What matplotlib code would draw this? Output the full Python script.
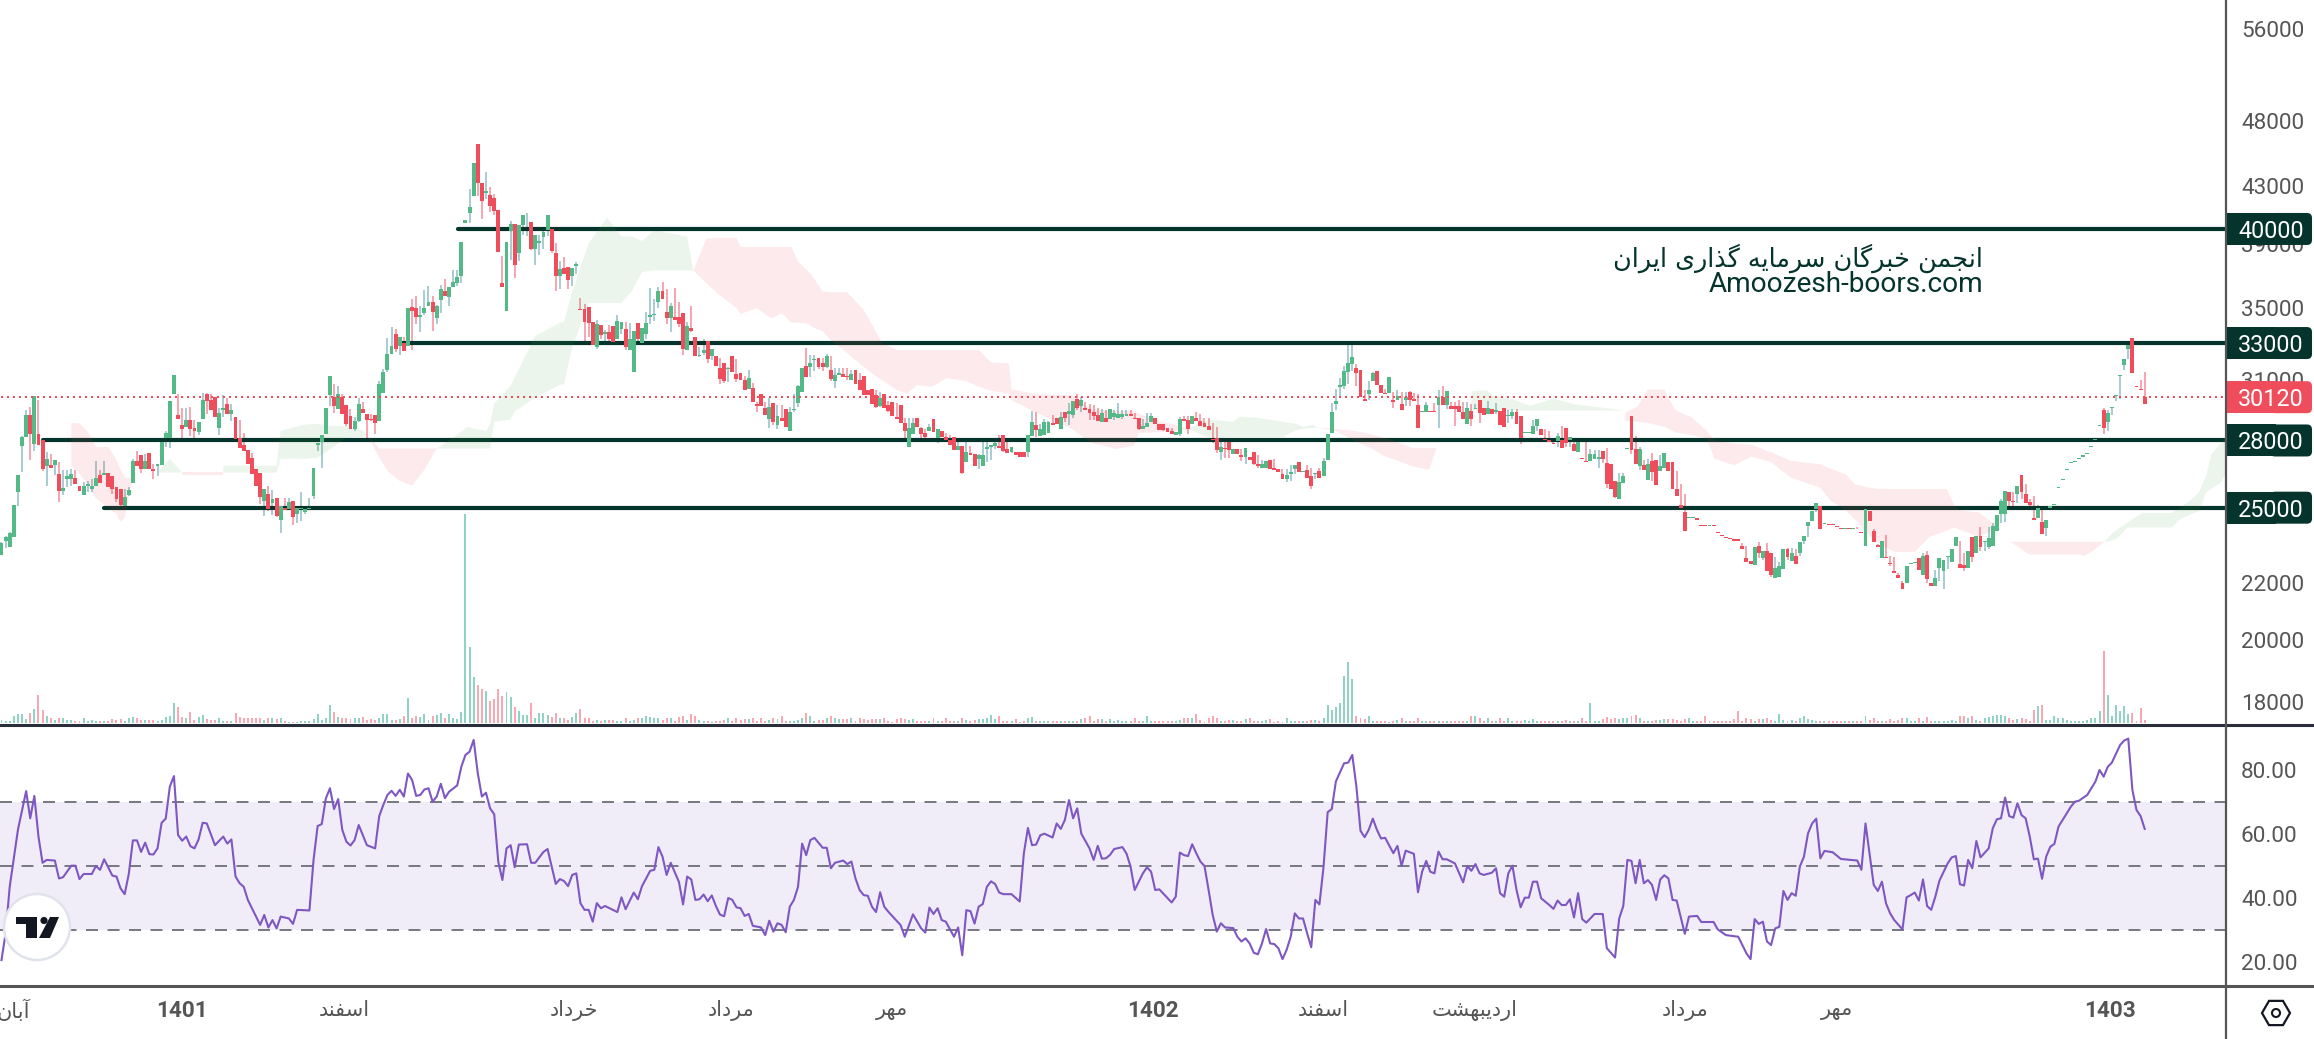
import numpy as np
import matplotlib
matplotlib.use("Agg")
import matplotlib.pyplot as plt
from matplotlib.lines import Line2D
from matplotlib.patches import Circle, FancyBboxPatch, Polygon, Rectangle, RegularPolygon
from matplotlib.ticker import NullFormatter

plt.rcParams['font.family'] = ['Roboto', 'DejaVu Sans']

## candles
opens = [
    23100,23650,23400,23800,25650,27750,28150,29250,27850,28300,
    28000,26800,26850,26850,26450,25700,26250,26250,26300,25950,
    25550,25950,25800,25950,26400,26400,26500,26350,25900,25800,
    25050,25550,26050,27050,27300,26700,27400,26700,26800,26850,
    28100,28100,30300,29250,28750,28650,29000,28600,28400,29050,
    30300,30000,30150,28600,29500,29800,29300,29150,28100,27800,
    27550,27200,26700,26500,25300,25600,25200,25400,24500,25000,
    24950,25300,24750,24950,24800,24950,25500,27800,27950,28300,
    30250,30150,29550,30150,29750,29200,28550,28950,29550,29300,
    29050,29250,28950,30350,31550,32400,33500,32850,33000,32850,
    35050,35000,34500,34700,35150,35350,34400,35500,36050,35680,
    36250,36500,36950,40400,41100,42290,46150,43250,42500,42350,
    42150,41300,36500,34850,39870,40350,38400,40300,40450,40450,
    38700,39050,39450,39950,40000,38400,36950,37450,37500,36950,
    37600,34950,34950,35050,34200,32800,34000,33500,33600,33950,
    33250,33800,33800,32600,31450,34150,33000,33500,34500,34600,
    35350,36000,34750,34450,34500,34500,34700,32600,33850,33350,
    32300,32450,33100,32300,32300,31650,31900,31600,32300,31300,
    31350,31000,30550,30600,29800,30300,29600,29050,29850,28750,
    29100,29550,28450,29500,29850,30400,31750,31700,32050,32200,
    31900,31700,31550,30950,31250,31300,31200,31000,31550,31000,
    31200,30500,30550,30250,29700,30300,29750,29900,29150,29750,
    28850,27700,28300,29100,28600,28350,28450,29050,28100,28450,
    28150,28000,28150,27550,27750,27000,27400,27350,27150,26800,
    27600,27700,27750,27750,28250,27600,27450,27450,27450,27450,
    27450,28200,28750,28200,28250,28350,28850,29100,28550,29400,
    29300,29250,30050,29700,29600,29550,29400,29250,28900,29100,
    29050,29150,29100,29150,29200,29300,29100,29100,28550,28650,
    28900,29100,28800,28800,28600,28450,28250,28300,29050,29000,
    28800,29100,28950,28850,28700,28050,28100,27450,27650,27950,
    27350,27600,27300,27250,27250,27450,26900,26750,26750,27100,
    26750,26700,26450,26250,26450,26700,27000,26550,26650,26350,
    26450,26600,26350,27100,28350,29800,30650,30700,31450,31850,
    31650,31550,30050,30300,30950,31500,30770,30350,30350,30000,
    30000,29800,30000,30400,30050,29750,29400,29400,29450,29450,
    29750,30150,29750,29700,29700,29700,29400,28800,29450,29550,
    30000,29600,29300,29550,29400,29450,29600,29200,29200,29400,
    29200,28350,28350,28300,28700,28550,28050,28000,27900,27980,
    28000,28600,28000,27850,27450,27200,27050,27050,27150,27150,
    27500,26950,26900,26150,25350,26050,27600,29200,27600,26800,
    26850,26200,27050,27100,26600,26750,27000,27000,25800,25100,
    24800,24550,24550,24550,24290,24290,24250,24290,24000,23890,
    23800,23750,23700,23700,23450,22950,22850,22700,23450,22950,
    23250,23150,22200,22250,22550,23300,22850,23050,23150,23650,
    24250,24450,24950,25050,24330,24330,24330,24250,24170,24130,
    24170,24130,24130,24000,23450,24850,24050,23480,22950,23000,
    22780,22450,22300,22000,22000,22750,22780,22950,22300,23100,
    22000,21900,22600,22450,23000,22800,23450,22750,22700,22600,
    23800,23150,23850,23600,23400,23450,24050,24750,24750,25650,
    25300,25600,26400,25600,25250,24550,24550,24400,24150,25000,
    25100,25850,26200,26650,26950,27000,27150,27250,27350,27700,
    28000,28700,29500,28900,29600,30200,31200,31800,32650,33300,
    30700,30550,30120]

closes = [
    23550,23800,23950,25100,26400,28150,29250,28300,30200,27800,
    26700,27150,26750,27100,25700,25850,26350,26450,26000,25700,
    25950,26000,25950,26300,26050,26500,25900,25800,25350,25100,
    25450,25750,27050,26800,26700,27050,26700,26600,26900,27950,
    28350,29950,31250,29050,28550,29000,28550,28450,28900,30000,
    29950,29500,29150,29350,29600,29300,29500,28050,27650,27500,
    26900,26450,25950,25450,25800,24950,25350,24650,25050,24900,
    25250,24600,25000,25000,24950,25000,26750,27900,28250,29600,
    31200,29700,30300,29300,28800,28550,28950,29800,29350,29000,
    29000,28850,30800,31450,32400,32850,32650,33350,32550,35000,
    34850,34500,34600,35000,35350,34750,35150,36150,35700,36250,
    36550,36900,39130,40600,41480,44720,43250,41900,42650,41600,
    41200,38500,36250,39100,40350,37650,40300,40950,40500,38700,
    39600,39200,39800,40950,38550,36950,37400,37100,36700,37450,
    37700,34900,34200,34150,32900,34050,33450,33600,33250,33050,
    34250,34200,32800,33250,33650,33200,33850,34150,34600,34650,
    36000,35550,34450,35150,34300,34050,32650,33950,33700,32300,
    32350,32600,32100,32650,31750,31050,30950,31650,31450,31050,
    31000,30500,31100,29900,29700,29700,29250,29650,28900,29200,
    28950,28650,29400,29550,30700,31650,31150,31900,32100,31700,
    31700,32300,31050,31250,31400,31150,31150,31300,30800,30500,
    30250,30250,29800,29650,30100,29600,29450,29200,29050,28850,
    28450,28600,28850,28650,28300,28150,28650,28400,28550,28150,
    28000,27800,27550,27750,26500,27450,27300,26800,27300,27300,
    27700,27800,27900,27650,27500,27400,27700,27300,27250,27250,
    28250,28900,28500,28550,28900,28900,28750,28800,29150,29100,
    29450,29950,29600,30000,29500,29350,29200,28950,29350,28900,
    29550,29350,29300,29300,29300,29200,29050,28550,28700,28850,
    29200,28800,28500,28500,28400,28300,28400,29050,28950,28550,
    29200,28950,28700,28650,28500,28000,27550,27700,27600,27550,
    27600,27350,27250,27650,27100,26900,26800,26900,27050,26700,
    26650,26550,26250,26400,26550,26850,26550,26600,26300,25950,
    26500,26300,27050,28300,29400,29950,30770,31500,31900,32250,
    31350,30150,29950,30500,31400,30770,30350,30300,31150,29900,
    30200,29500,30150,30000,29950,28600,29450,29750,29400,29400,
    30150,29750,30450,29550,29550,29400,29050,29600,29050,29600,
    29350,29250,29600,29300,29500,28750,28650,29250,29400,28800,
    28100,28400,28400,28700,29050,28250,28000,27950,27850,28200,
    27650,27900,28150,27500,27950,27150,27000,27350,27350,27250,
    27150,26000,25800,25450,26100,26350,27650,27550,26900,27600,
    26650,26900,26550,25970,26800,27400,26600,25800,25500,25000,
    24030,24600,24600,24500,24250,24250,24290,24250,23950,23850,
    23750,23700,23650,23650,23300,22800,22750,23400,23150,23250,
    22450,22300,22600,22650,23300,23000,23150,22750,23600,23850,
    24400,24850,25200,24100,24370,24290,24290,24200,24130,24170,
    24130,24170,24100,23950,24950,24450,23600,23400,23650,22950,
    22750,22400,22220,21780,22650,22780,22800,22500,23050,22150,
    21900,22200,22950,22900,23050,23300,23800,22600,22600,23250,
    23000,23850,23400,23650,23750,24250,24700,25300,25700,25300,
    25250,25950,25650,25200,25100,24500,25000,23900,24500,25050,
    25150,25900,26250,26700,27000,27050,27200,27300,27400,27750,
    28050,28750,28600,29350,29650,30250,31250,32100,32900,31400,
    30650,30500,29800]

highs = [
    23600,23850,24000,25100,26400,28200,29500,29650,30200,30000,
    28000,27450,27350,27100,27000,26650,26650,26700,26650,25950,
    26100,26150,26250,27050,26650,27050,26500,26350,25900,25800,
    25800,25900,27150,27500,27300,27350,27400,26900,26900,28000,
    28450,29950,31250,30300,29600,29600,29650,29000,28900,30350,
    30350,30300,30150,29600,30250,30100,29800,29150,29000,28350,
    27550,27400,26700,26500,25800,25950,25750,25400,25050,25400,
    25400,25300,25000,25650,24950,25400,26750,27900,28250,29600,
    31200,30800,30700,30300,29750,29550,29150,30100,29900,29300,
    29300,29250,30950,31600,33300,33900,33800,33350,33350,35000,
    35550,35700,35150,36100,36350,35700,35200,36400,36750,36250,
    37330,37330,39130,40600,42800,44720,46150,43250,44000,42950,
    42400,41300,38200,39100,40550,40350,40300,40950,41100,40450,
    39600,39600,40000,40950,40000,39050,37900,38150,37500,37450,
    37850,35590,35250,35050,34200,34300,34000,33730,34000,33950,
    34600,34200,34200,34150,33650,34150,33850,34750,36200,35550,
    36250,36600,36150,35300,36200,35350,34700,34200,35150,33350,
    32800,33250,33100,32650,32300,32200,31900,31700,32300,32150,
    31350,31200,31550,30850,29900,30300,29900,30100,29850,29750,
    29750,29550,29650,30300,30750,31650,32750,32350,32350,32200,
    32200,32400,32300,31650,31650,31650,31650,31550,31550,31350,
    31200,30500,30550,30500,30400,30300,29950,29900,29850,29750,
    29100,29100,29100,29100,28650,28550,28800,29050,28550,28450,
    28350,28250,28150,28100,27750,27950,27750,27350,27350,28050,
    28050,27800,28050,28250,28250,28000,27700,27450,27450,27450,
    28250,29450,29400,28800,29050,28950,29250,29100,29400,29400,
    29850,29950,30300,30150,29900,29800,29750,29600,29550,29500,
    29550,29500,29850,29500,29500,29500,29350,29100,29050,29350,
    29350,29100,28800,28800,28600,28600,28400,29150,29200,29200,
    29200,29400,29300,29100,29100,28850,28650,28000,27950,28000,
    27600,27600,27600,27650,27250,27450,27300,27100,27050,27100,
    27150,26700,26700,26700,26850,26850,27000,26600,26850,26750,
    26500,26750,27200,28300,29850,30550,31100,31750,33000,33050,
    31850,31550,30500,30950,31450,31500,30770,30550,31150,30400,
    30500,30400,30400,30450,30350,30300,29450,29900,29450,29850,
    30500,30700,30450,29900,29900,30000,29900,29900,29800,29800,
    30000,29600,29950,29550,29850,29450,29600,29500,29550,29550,
    29200,28400,28400,29000,29050,28550,28550,28450,27950,28350,
    28700,28600,28150,28050,28000,27200,27950,27600,27550,27550,
    27500,27650,26900,26150,26500,26500,27650,29200,28200,27700,
    27100,27150,27400,27100,27300,27400,27000,27000,26600,26000,
    25600,24600,24600,24550,24290,24290,24290,24290,24000,23890,
    23800,23750,23700,23700,23550,23450,22850,23400,23600,23250,
    23550,23150,23000,22800,23300,23350,23350,23300,23600,23850,
    24400,24850,25200,25050,24370,24330,24330,24250,24170,24170,
    24170,24170,24200,24000,24950,24850,24130,23500,23650,23890,
    23050,23000,22400,22100,22650,22780,22800,22950,23150,23250,
    22000,22500,22950,22900,23050,23300,23800,23650,23150,23250,
    23800,23850,24200,23650,24200,24350,24700,25350,25700,25650,
    25650,25950,26400,26000,25350,25480,25100,24900,24500,25050,
    25150,25900,26250,26700,27000,27050,27200,27300,27400,27750,
    28050,28750,29600,29500,29650,30250,31250,32100,32900,33300,
    30700,31000,31450]

lows = [
    23100,23350,23400,23800,25050,26550,28150,27100,27500,27800,
    26600,25950,26750,26400,25250,25550,25900,25950,26000,25700,
    25550,25650,25650,25950,26050,26400,25900,25600,25250,25000,
    25050,25500,26050,26800,26500,26700,26700,26250,26350,26850,
    27700,27650,30300,29050,27950,28650,28200,27950,28250,29050,
    29300,29500,29150,28250,29150,29300,28950,28050,27650,27500,
    26900,26450,25950,25150,24650,24850,24700,24600,23950,24900,
    24950,24300,24350,24450,24750,24950,25350,27500,26750,28300,
    29700,29350,29550,29300,28700,28550,28450,28900,29350,28100,
    28950,28300,28950,30350,31450,32400,32500,32350,32550,32850,
    32600,34050,33600,34600,35150,33700,34050,34700,35700,35130,
    36250,36350,36530,40400,40400,42290,42300,40700,42100,41150,
    40950,38500,36250,34850,37950,36850,37900,39580,39500,38600,
    37650,38300,38650,39500,38400,36050,36150,37100,36150,36350,
    37100,34900,32900,33350,32900,32650,33250,32950,33050,33050,
    33250,33500,32600,32600,31450,32950,33000,33250,34050,34250,
    35000,35550,34100,33600,34300,33900,32350,32600,33600,32300,
    32250,32350,31900,32050,31750,30800,30850,30900,31450,30900,
    31000,30500,30550,29900,29400,29700,29250,28600,28750,28550,
    28950,28650,28450,29400,29650,30400,31150,31150,31500,31600,
    31500,31650,30950,30600,31250,31150,31000,31000,30800,30500,
    30250,30250,29800,29600,29650,29600,29400,29200,29050,28850,
    28100,27700,28300,28650,27950,27950,28450,28400,27900,28150,
    28000,27800,27550,27550,26450,27000,27300,26800,26700,26800,
    27000,27100,27600,27650,27450,27400,27400,27300,27250,27250,
    27250,28200,28150,28200,28250,28350,28750,28800,28550,28900,
    28750,29100,29500,29400,29500,29000,29000,28950,28900,28900,
    29050,29000,29100,29050,29200,29200,29050,28500,28550,28650,
    28900,28800,28500,28450,28400,28300,28250,28200,28950,28300,
    28800,28950,28700,28650,28500,27900,27400,27100,27200,27200,
    27350,27350,27050,26900,27100,26850,26750,26750,26750,26700,
    26650,26550,26250,26100,26150,26450,26550,26550,26300,25800,
    26250,26300,26350,27100,28350,29500,30150,30550,30800,31500,
    30700,30150,29950,30000,30950,30770,30350,30300,30350,29600,
    30000,29500,29700,29700,29950,28600,29400,29400,29400,29400,
    28600,29750,29550,29550,28700,29400,29050,28800,28700,29550,
    28850,29250,29300,29300,29300,28750,28650,28850,29050,28800,
    27850,28350,28350,28300,28450,28250,27950,27950,27850,27700,
    27650,27700,27700,27500,27450,27150,27000,27050,27150,26750,
    26950,25850,25800,25400,25350,26050,27600,27350,26900,26650,
    26650,26200,26150,25970,26600,26750,26600,25800,25500,24900,
    24030,24550,24550,24500,24250,24250,24250,24250,23950,23850,
    23750,23700,23650,23650,23300,22800,22750,22700,22950,22900,
    22450,22250,22200,22250,22550,22900,22850,22750,23050,23500,
    23800,24450,24800,24100,24330,24290,24290,24200,24130,24130,
    24130,24130,24100,23950,23450,24450,23600,23400,22950,22950,
    22650,22400,22220,21780,22000,22750,22780,22500,22300,22000,
    21900,21900,22100,21800,22550,22800,23450,22600,22450,22600,
    22800,23150,23250,23250,23300,23450,24050,24350,24400,24950,
    24900,25200,25350,25200,24950,24500,24550,23900,23850,25000,
    25100,25850,26200,26650,26950,27000,27150,27250,27350,27700,
    28000,28700,28300,28450,29250,29950,30050,31550,32100,31400,
    30650,30500,29800]

## volume, in the units of the hidden volume scale
volumes = [
    8,6,5,18,22,22,10,26,34,70,32,18,12,8,12,14,8,8,5,6,
    12,6,8,6,5,5,5,10,8,10,5,12,16,14,8,8,8,8,6,8,
    16,18,50,40,16,12,28,8,16,20,10,8,8,12,5,6,6,26,16,14,
    12,12,12,12,8,12,12,10,12,5,4,4,4,6,6,6,10,22,8,14,
    45,28,16,12,14,10,14,12,16,8,10,8,14,24,22,8,8,10,18,62,
    14,18,16,24,8,18,20,26,12,24,14,10,28,513,187,114,95,85,80,54,
    60,85,68,78,65,40,30,20,20,50,14,26,26,20,16,26,14,12,8,16,
    26,36,12,12,6,8,5,8,8,8,6,5,14,6,8,14,12,18,16,14,
    12,8,14,12,6,16,18,8,22,18,8,6,5,4,6,6,8,14,6,12,
    8,10,10,12,6,14,6,8,12,10,
    17,7,5,5,8,12,25,17,7,8,8,12,17,14,10,10,10,12,7,12,
    10,8,10,10,10,12,5,3,10,12,10,8,10,7,5,7,7,12,5,7,
    14,5,7,7,14,8,7,8,10,10,14,20,10,19,7,7,7,10,3,5,
    14,15,7,7,7,7,7,7,5,7,7,7,7,10,12,17,7,10,10,7,
    10,7,8,5,5,7,14,7,7,19,7,7,7,5,7,7,7,8,12,12,
    12,24,8,4,14,17,12,7,7,8,8,7,5,10,12,7,7,7,8,10,
    3,5,3,12,5,7,7,7,5,8,8,7,12,44,32,39,49,115,150,108,
    17,12,10,17,7,5,5,7,3,5,8,14,7,7,7,14,5,7,5,7,
    7,7,7,7,7,5,5,7,17,17,12,5,12,5,7,12,7,14,5,7,
    5,8,5,10,7,5,7,7,5,7,
    7,8,7,7,5,12,7,49,5,5,10,15,10,12,10,12,14,19,20,12,
    7,5,7,8,8,10,10,10,8,5,10,12,7,5,5,19,7,7,5,7,
    5,7,10,30,7,14,10,5,10,10,12,8,7,22,8,7,8,
    7,14,17,10,8,7,7,7,5,7,7,7,5,5,5,7,5,17,8,14,
    7,7,7,10,7,8,14,14,7,5,14,7,15,7,5,5,7,7,
    8,7,17,19,14,17,8,7,12,15,17,20,20,17,14,8,10,12,10,7,
    32,42,46,8,8,19,12,12,8,7,7,5,5,8,12,14,30,177,69,17,
    46,30,42,24,25,5,37,8]

## ichimoku cloud edges, nan splits one patch from the next
nan = float("nan")
pink_x = [17,19,21,23,26,28,29,30,32,nan,
    44,54,nan,
    89,92,94,97,100,103,105,106,nan,
    168.5,171.7,174.8,179,180,184,187.5,190,192.4,194,196.3,197.5,200,202.3,206,208.4,210,213.3,214.5,
    218,220.5,223,226.6,230.2,235,238,241,245.4,246,252,260.6,265.4,271.5,275.7,277,282.4,286,289,nan,
    320.6,325,329.8,333.4,337,339.5,343.7,347.7,349.5,nan,
    395.5,398.5,400.9,405.1,407.5,411.7,415.4,417.2,422,426.2,431,435.8,443,445.5,449.1,451.5,455.1,
    457.5,461.1,466,469.6,473.8,475.6,476.8,481.6,486.4,489.4,493.9,501.6,506,507.3,509,512.2]
pink_up = [28840,28820,28420,27700,27700,27100,26650,26300,26300,nan,
    26530,26530,nan,
    28300,27620,27620,27620,27620,27620,27620,27620,nan,
    37300,39350,39400,39400,38800,38800,38800,38800,38800,37850,37300,36950,36000,35950,35950,35300,34900,33500,33000,
    32620,32620,32620,32620,32620,32620,32620,31940,31880,30530,30280,30220,29500,29430,29430,29300,28900,28750,28550,nan,
    28600,28550,28450,28300,28100,27950,27650,27650,27650,nan,
    29350,29650,30500,30500,29500,29100,28450,28000,27850,27800,27450,27050,26900,26700,26450,26000,25850,
    25800,25800,25800,25800,25800,25100,24900,24800,24180,23600,23600,23600,23600,23600,23600,23600]
pink_lo = [26850,26480,25970,25400,25000,24750,24400,24600,26300,nan,
    26400,26400,nan,
    28300,27200,26600,26150,25950,26650,27300,27620,nan,
    37300,36500,35800,35000,34650,35000,34400,34700,34150,34150,34100,33900,33650,33100,32450,32000,31700,31150,31000,
    30500,30300,30750,30650,31100,30950,30650,30450,30300,29980,29350,28560,27900,27600,27750,28350,28400,28450,28550,nan,
    28600,28450,27950,27650,27250,27100,26800,26650,27650,nan,
    28950,28900,28850,28650,28400,28250,28100,27150,26850,27250,27000,26300,25850,25300,24900,24500,23800,
    23500,23200,23200,23800,24050,24180,24100,23800,24180,23600,23100,23100,23100,23050,23200,23600]

green_x = [38,41,44,nan,
    54,67,68,74,77,80,84,88,89,nan,
    106,110,113.5,118,119,120,124,125,130,136,137,139,143,147.5,151,153.5,156,159,167,168.5,nan,
    289,294,300,301.6,305.5,312,315.2,317,319.4,320.6,nan,
    357.8,358.2,361.8,363.5,367.5,372.4,378,383,387,395.2,nan,
    512.2,514.2,515.4,517.8,521.4,528.6,530.4,532.2,535.2,537,538.2,540.7,543]
green_up = [26530,27150,26530,nan,
    26830,26830,28470,28760,28800,28700,28700,28470,28300,nan,
    27620,28130,28650,28450,28800,29800,30700,31150,33400,34150,34200,36000,39050,40750,39500,39500,39200,39900,39500,37300,nan,
    28550,29000,28900,29150,29100,28900,28800,28650,28750,28600,nan,
    29450,30420,30470,30150,30060,29680,30060,29760,29670,29450,nan,
    23600,23960,24100,24380,24780,24780,25000,25180,25650,26400,27350,27900,28500]
green_lo = [26530,26530,26530,nan,
    26530,26530,27150,27150,27200,27580,28130,28170,28300,nan,
    27620,27620,27620,27620,27620,28900,29000,29400,30100,30750,30800,32750,35300,35300,35300,36000,37200,37300,37300,37300,nan,
    28550,28150,28150,28150,28150,28150,28480,28550,28600,28600,nan,
    29450,29450,29450,29450,29450,29450,29450,29450,29450,29450,nan,
    23600,23650,23760,24180,24180,24180,24480,24650,24850,25650,25800,26100,27050]

## rsi, corner points of the line
rsi_index = [0,1,2,4,6,7,8,9,10,11,13,14,15,17,18,19,20,22,23,24,25,27,28,29,30,
    31,32,33,34,35,36,37,38,39,40,41,42,43,44,45,46,47,48,49,50,52,54,55,56,57,58,59,60,
    63,64,65,66,67,68,70,71,72,75,76,77,78,79,80,81,82,83,84,85,86,87,89,91,92,93,94,95,96,97,98,99,
    100,101,102,103,104,105,106,107,108,109,111,112,113,114,115,116,117,118,119,120,121,122,123,124,125,126,
    128,129,130,132,133,134,135,136,137,138,139,140,141,142,143,144,145,146,147,150,151,152,154,155,156,
    158,159,160,161,162,163,165,166,167,168,169,170,171,172,173,174,175,176,177,178,179,180,181,182,183,
    185,186,187,188,189,190,191,192,193,194,195,196,197,198,200,201,202,203,205,206,207,208,209,210,211,212,213,214,215,216,
    219,220,222,224,225,226,227,228,229,230,232,233,234,235,236,237,238,239,240,241,242,243,244,246,248,249,250,
    251,252,253,254,256,257,258,259,260,261,262,263,265,266,267,268,269,270,271,273,274,275,276,278,279,280,281,
    282,285,286,287,288,289,290,291,292,293,294,295,296,297,298,300,301,302,303,304,305,306,307,308,309,310,311,312,313,314,
    315,316,317,318,319,320,321,322,323,324,325,327,328,329,330,331,332,333,334,335,336,337,339,340,341,342,344,345,346,347,
    348,349,350,351,352,354,356,357,358,359,360,361,363,364,365,366,367,368,369,370,371,372,373,374,375,377,378,379,380,381,
    382,383,384,385,386,388,390,391,393,394,395,396,397,398,399,400,401,402,403,404,405,406,407,408,410,411,413,414,417,418,
    420,423,425,426,427,428,429,430,431,432,433,434,435,436,437,438,439,440,441,442,443,444,446,448,452,453,454,456,457,458,
    459,460,461,463,464,465,466,467,468,469,470,471,472,474,475,476,477,478,479,480,481,482,484,485,486,487,488,489,490,491,
    492,493,494,495,496,497,498,499,500,501,504,505,506,508,510,511,512,513,514,516,517,518,519,520,521,522]
rsi_values = [20.6,29,43.5,61.3,73.4,64.9,71.9,59.2,51,51.9,51.7,46.1,46.5,50.1,50.1,45.9,47.5,47.5,50,48.8,52.1,47,46.7,43,41.2,
    47.5,58,58,54.4,57.3,53.7,53.6,55.5,63.5,64.8,74.8,78.1,59.7,57.9,59.2,56.2,55.5,58.3,63.5,63.3,56.5,59.2,57,58.3,46.7,44.6,43.5,39.4,
    31.6,34.7,30.8,33.1,30.5,34.2,33.6,31.9,36.3,36.1,51.9,62.5,63.1,71.1,74.3,67.8,70.9,61.3,57.6,56.4,58.1,62.8,56.5,55.5,65.6,69.1,72.2,73.5,71.9,73.8,71.7,78.9,
    76.9,71.9,72.2,73.9,74.3,70.1,71.7,75.7,71.2,73.2,75.2,81,84.7,85.7,89.4,79,71.7,72.9,68,66.2,51.3,45.6,55.5,56.5,49.6,56.7,
    56.8,51,51,54.4,55.3,49.8,44.4,45.9,45.3,43.7,47.2,47.7,38.4,36.3,36.3,32.6,38.4,36.8,37.5,35.6,40.2,36.5,41.7,39.6,43.7,
    48.5,48.8,55.9,52.9,47.2,51,45,38,46.7,45.8,39.4,39.6,41.1,39,40.8,37.5,34.8,34.3,40,39.4,37.1,36.8,34.4,35,31.3,
    30.8,28.4,32.9,29.5,32.1,31.6,29.3,37.3,39.4,43.5,57,53.4,58.1,58.8,55.7,55.7,49.3,51,51.7,50.6,51.4,46.1,42.5,40.9,40.7,37.3,35.6,41.8,37.3,35.7,
    31.5,27.9,34.9,30.5,29.2,37,35,36.8,33.1,32.6,27.9,30.8,22.1,36.2,35.9,32,37.3,38.1,43.5,45.2,44.4,41.7,41.2,41.2,38.9,53.9,61.9,
    56.5,56.7,59.6,60.1,58.9,63.3,61.6,64.4,70.6,64.9,68,60.1,55.5,51.9,56.3,52.3,52.4,53.5,55.3,55.9,53.9,49.8,42.5,47.7,49.6,48.2,42.5,
    42.7,38.6,40.4,54.2,53.4,53.1,56.8,54,51.4,50,42.5,34.7,29.5,32.1,30.8,30.6,27.9,26.4,27.4,25.8,22.9,22.4,25.8,30.3,25.8,25.6,24.3,20.9,23.8,27.9,
    35.2,33.6,33.6,29,24.6,39.4,38,49.8,66.8,67.8,76.4,82.1,82.3,84.7,74.8,61,59,61.3,64.8,61.3,58.6,58.8,54,56.3,50,54.8,53.8,41.8,48.2,51.6,
    48.2,47.7,54.5,52.1,52.1,50.8,44.9,50,48.5,50.6,47.7,47.2,47.9,49.3,41.5,40.4,47.7,50.1,42.5,37.1,40.1,40.1,45.1,45.1,39.9,37.8,36.6,39.2,37.8,37.8,
    39.6,33.9,41.5,33.4,32.3,35,35,24.3,21.4,33.6,37.5,51.9,51.6,44.6,51.9,44.6,45.6,44.1,39.4,45.8,47.1,46.1,39.4,39.2,28.8,34.2,34.4,32.5,32.5,30.2,
    28.4,27.9,22.7,20.9,33.4,31.9,32.6,26.4,25.3,30.5,31,42.2,39.4,41.5,40.7,49.8,52.9,60.2,63.3,64.8,52.4,54.7,54.3,52.2,51.7,48.8,63.3,44.1,42.2,45.1,
    38.3,35.2,33.1,30.2,40.2,40.9,41.7,39.2,45.8,37.5,36.3,40.4,45.4,50.8,52.7,53.1,44.3,43.9,51.9,49.3,57.8,52.7,55.5,61.8,64.6,64.9,71.4,65.6,65.1,69.6,
    65.9,64.9,59.2,52.1,52.3,46,52.9,56,56.9,62.3,68.5,70.1,70.4,72.2,76.4,80,77.9,81,82.3,87.8,89.2,89.8,73.8,67.5,65.6,61.6]

## horizontal levels and where each starts
level_prices = [40000, 33000, 28000, 25000]
level_starts = [111.3, 97, 10, 25]
last_price = 30120

price_ticks = [18000, 20000, 22000, 31000, 35000, 39000, 43000, 48000, 56000]
rsi_ticks = [20, 40, 60, 80]
month_index = [2.8, 44, 83.4, 139.4, 177.7, 216.9, 280.4, 322, 358.9, 410, 447, 513.5]
month_labels = ["آبان", "1401", "اسفند", "خرداد", "مرداد", "مهر", "1402", "اسفند", "اردیبهشت", "مرداد", "مهر", "1403"]

title_fa = "انجمن خبرگان سرمایه گذاری ایران"
title_en = "Amoozesh-boors.com"

# colours
GREEN = "#53b987"
RED = "#ef4d5c"
GREEN_WICK = "#a9cdd2"
RED_WICK = "#f7a7b2"
GREEN_VOL = "#90d2c4"
RED_VOL = "#f9a8b2"
LEVEL = "#04342c"
GREY = "#555555"
PURPLE = "#7e57c2"

W, H = 2314, 1039
CANDLE_PX = 4.106

# iso, final, initial, medial
FORMS = {
    "ا": "\uFE8D\uFE8E", "آ": "\uFE81\uFE82", "د": "\uFEA9\uFEAA", "ذ": "\uFEAB\uFEAC", "ر": "\uFEAD\uFEAE",
    "ب": "\uFE8F\uFE90\uFE91\uFE92", "ت": "\uFE95\uFE96\uFE97\uFE98", "ج": "\uFE9D\uFE9E\uFE9F\uFEA0",
    "خ": "\uFEA5\uFEA6\uFEA7\uFEA8", "س": "\uFEB1\uFEB2\uFEB3\uFEB4", "ش": "\uFEB5\uFEB6\uFEB7\uFEB8",
    "ف": "\uFED1\uFED2\uFED3\uFED4", "م": "\uFEE1\uFEE2\uFEE3\uFEE4", "ن": "\uFEE5\uFEE6\uFEE7\uFEE8",
    "ه": "\uFEE9\uFEEA\uFEEB\uFEEC", "ی": "\uFBFC\uFBFD\uFBFE\uFBFF", "گ": "\uFB92\uFB93\uFB94\uFB95",
}


def shape_fa(text):
    """matplotlib does not join or reverse Persian, so pick the letter forms here"""
    if text.isdigit():
        return text
    out = []
    for k, ch in enumerate(text):
        if ch not in FORMS:
            out.append(ch)
            continue
        prev_ch = text[k - 1] if k > 0 else " "
        next_ch = text[k + 1] if k + 1 < len(text) else " "
        joins_prev = prev_ch in FORMS and len(FORMS[prev_ch]) == 4
        joins_next = len(FORMS[ch]) == 4 and next_ch in FORMS
        form = FORMS[ch]
        if joins_prev and joins_next:
            out.append(form[3])
        elif joins_next:
            out.append(form[2])
        elif joins_prev:
            out.append(form[1])
        else:
            out.append(form[0])
    return "".join(reversed(out))


def draw_candles(ax):
    x = np.arange(len(opens))
    o = np.array(opens, dtype=float)
    c = np.array(closes, dtype=float)
    up = c >= o
    ax.vlines(x, lows, highs, colors=[GREEN_WICK if u else RED_WICK for u in up], linewidth=1.44, zorder=1)
    ax.bar(x, np.abs(c - o), bottom=np.minimum(o, c), width=0.95, linewidth=0,
           color=[GREEN if u else RED for u in up], zorder=4)


fig = plt.figure(figsize=(W / 100, H / 100), dpi=100, facecolor="white")

ax = fig.add_axes([0, (H - 725) / H, 2226 / W, 725 / H])
ax.set_yscale("log")
ax.set_xlim(-0.365, 541.8)
ax.set_ylim(17329, 58851)

draw_candles(ax)
ax.fill_between(pink_x, pink_lo, pink_up, color="#f23645", alpha=0.1, linewidth=0, zorder=3)
ax.fill_between(green_x, green_lo, green_up, color="#43a047", alpha=0.1, linewidth=0, zorder=3)

for price, start in zip(level_prices, level_starts):
    ax.plot([start, 541.8], [price, price], color=LEVEL, linewidth=3.0, solid_capstyle="round", zorder=2)
ax.plot([0, 541.8], [last_price, last_price], color=RED, linewidth=1.44, linestyle=(0, (1, 2)),
        dash_capstyle="butt", zorder=5)

ax.yaxis.tick_right()
ax.set_yticks(price_ticks)
ax.set_yticklabels([str(p) for p in price_ticks])
ax.yaxis.set_minor_formatter(NullFormatter())
ax.minorticks_off()
ax.tick_params(axis="y", length=0, pad=10.8, labelsize=16.2, labelcolor=GREY)
ax.set_xticks([])
for side in ax.spines:
    ax.spines[side].set_visible(False)

# volume sits on its own hidden scale
ax_vol = fig.add_axes(ax.get_position(), facecolor="none")
ax_vol.set_xlim(ax.get_xlim())
ax_vol.set_ylim(-4, 1771)
ax_vol.bar(np.arange(len(volumes)), volumes, width=0.48, linewidth=0,
           color=[GREEN_VOL if closes[i] >= opens[i] else RED_VOL for i in range(len(volumes))])
ax_vol.axis("off")

# rsi panel
ax_rsi = fig.add_axes([0, (H - 986) / H, 2226 / W, 261 / H])
ax_rsi.set_xlim(ax.get_xlim())
ax_rsi.set_ylim(12.5, 94.06)
ax_rsi.axhspan(30, 70, color=PURPLE, alpha=0.1, linewidth=0)
for level in [30, 50, 70]:
    ax_rsi.axhline(level, color="#787b86", linewidth=1.44, linestyle=(0, (6, 4.75)))
ax_rsi.plot(rsi_index, rsi_values, color=PURPLE, linewidth=1.5)
ax_rsi.yaxis.tick_right()
ax_rsi.set_yticks(rsi_ticks)
ax_rsi.set_yticklabels(["%.2f" % v for v in rsi_ticks])
ax_rsi.tick_params(axis="y", length=0, pad=10.8, labelsize=16.2, labelcolor=GREY)
ax_rsi.set_xticks(month_index)
ax_rsi.set_xticklabels([shape_fa(m) for m in month_labels])
ax_rsi.tick_params(axis="x", length=0, pad=10, labelsize=15, labelcolor=GREY)
for lab, name in zip(ax_rsi.get_xticklabels(), month_labels):
    if name.isdigit():
        lab.set_fontweight("bold")
        lab.set_fontsize(16.2)
    else:
        lab.set_family("DejaVu Sans")
for side in ax_rsi.spines:
    ax_rsi.spines[side].set_visible(False)

# frame lines, tags and badges in pixel coordinates
ov = fig.add_axes([0, 0, 1, 1], facecolor="none")
ov.set_xlim(0, W)
ov.set_ylim(H, 0)
ov.axis("off")

fig.add_artist(Line2D([0, 1], [(H - 725) / H] * 2, color="#2a2e39", linewidth=2.2))
fig.add_artist(Line2D([0, 1], [(H - 986) / H] * 2, color=GREY, linewidth=2.2))
fig.add_artist(Line2D([2226 / W] * 2, [0, 1], color=GREY, linewidth=1.6))


def price_tag(price, colour):
    fig.canvas.draw()
    y = H - ax.transData.transform((0, price))[1]
    ov.add_patch(FancyBboxPatch((2270, y - 16), 42, 32, boxstyle="round,pad=0,rounding_size=5", linewidth=0,
                                facecolor=colour, zorder=5))
    ov.add_patch(Rectangle((2226, y - 16), 50, 32, linewidth=0, facecolor=colour, zorder=5))
    ov.text(2271, y, str(price), color="white", fontsize=16.8, ha="center", va="center_baseline", zorder=6)


for price in level_prices:
    price_tag(price, LEVEL)
price_tag(last_price, RED)

ov.text(1983, 258, shape_fa(title_fa), family="DejaVu Sans", fontsize=18.4, color=LEVEL, ha="right", va="center")
ov.text(1983, 285, title_en, fontsize=20.2, color=LEVEL, ha="right", va="center")

# logo badge on the rsi panel
ov.add_patch(Circle((37, 927), 33, facecolor="white", edgecolor="#e0e3eb", linewidth=1.8, zorder=5))
ov.add_patch(Polygon([(16, 917), (37, 917), (37, 938), (26, 938), (26, 924), (16, 924)], facecolor="#131722", zorder=6))
ov.add_patch(Circle((44, 920.5), 3.6, facecolor="#131722", zorder=6))
ov.add_patch(Polygon([(50, 917), (59, 917), (50, 938), (39, 938)], facecolor="#131722", zorder=6))

# settings icon
ov.add_patch(RegularPolygon((2276, 1013), 6, radius=14, orientation=np.pi / 6, fill=False, edgecolor="#131722", linewidth=1.6))
ov.add_patch(Circle((2276, 1013), 4, fill=False, edgecolor="#131722", linewidth=1.5))

fig.savefig("out.png", dpi=100, facecolor="white")
